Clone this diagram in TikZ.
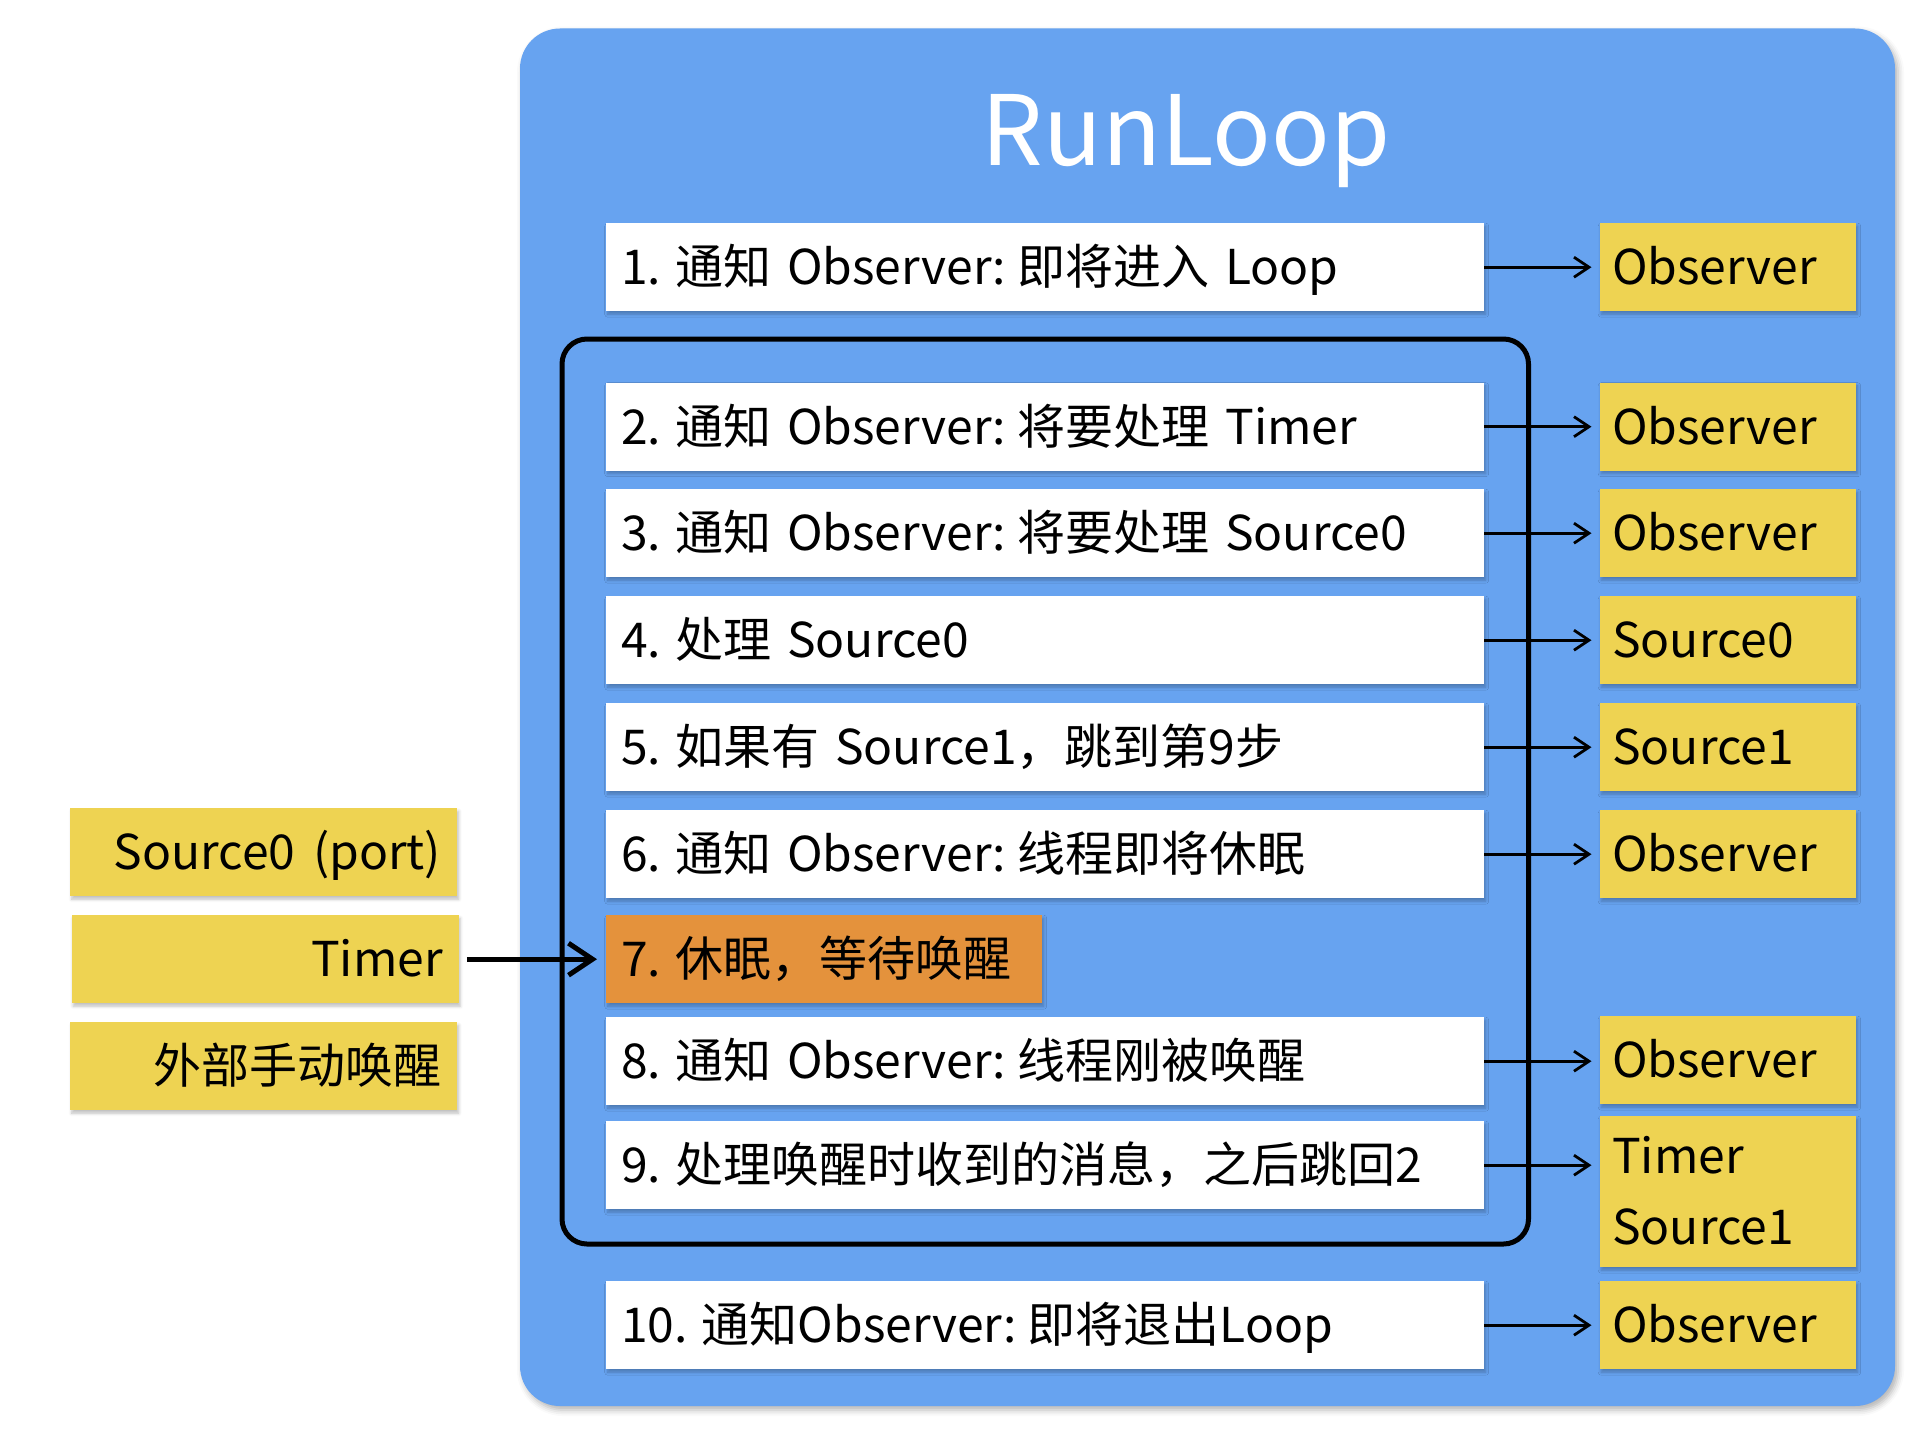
\documentclass[tikz,border=0pt]{standalone}
\usepackage{fontspec}
\setmainfont{Noto Sans CJK SC}
\usetikzlibrary{arrows.meta,shadows.blur}
\definecolor{rlblue}{RGB}{103,163,240}
\definecolor{rlyellow}{RGB}{238,211,82}
\definecolor{rlorange}{RGB}{228,146,60}
\newcommand{\gpa}{\hspace{14pt}}% after step number
\newcommand{\gpb}{\hspace{16pt}}% between CJK and Latin
\newcommand{\gpc}{\hspace{11pt}}% after colon
\begin{document}
\begin{tikzpicture}[x=1pt,y=-1pt,
  txt/.style={font=\fontsize{48}{71}\selectfont, text height=35pt, text depth=0pt,
    inner ysep=0pt, anchor=north west, minimum height=88pt},
  shad/.style={blur shadow={shadow xshift=1.5pt, shadow yshift=-3pt, shadow blur radius=3pt, shadow opacity=25}},
  stepbox/.style={txt, shad, fill=white, inner xsep=15pt, text width=848pt, align=left},
  sleepbox/.style={txt, shad, fill=rlorange, inner xsep=15pt, text width=406pt, align=left},
  obsbox/.style={txt, shad, fill=rlyellow, inner xsep=12.5pt, text width=231.5pt, align=left},
  srcbox/.style={txt, shad, fill=rlyellow, inner xsep=16pt, text width=355pt, align=right},
  thin/.style={line width=2.8pt, -{Straight Barb[length=15pt,width=20pt,line width=2.8pt]}},
  thick/.style={line width=5pt, -{Straight Barb[length=24pt,width=32pt,line width=5pt]}}
]
\useasboundingbox (0,0) rectangle (1918,1442);
% main RunLoop panel
\fill[rlblue, rounded corners=40pt,
  blur shadow={shadow xshift=3pt, shadow yshift=-4pt, shadow blur radius=6pt, shadow opacity=30}]
  (520,28.5) rectangle (1895,1406);
\node[text=white, font=\fontsize{97}{110}\selectfont, anchor=base] (title) at (1186,165.5) {RunLoop};
% loop frame
\draw[line width=5pt, rounded corners=25pt] (562,339) rectangle (1528.5,1244);
% steps
\node[stepbox] (b1) at (606,223) {1.\gpa 通知\gpb Observer:\gpc 即将进入\gpb Loop};
\node[stepbox] (b2) at (606,382.5) {2.\gpa 通知\gpb Observer:\gpc 将要处理\gpb Timer};
\node[stepbox] (b3) at (606,489) {3.\gpa 通知\gpb Observer:\gpc 将要处理\gpb Source0};
\node[stepbox] (b4) at (606,596) {4.\gpa 处理\gpb Source0};
\node[stepbox] (b5) at (606,703) {5.\gpa 如果有\gpb Source1，跳到第9步};
\node[stepbox] (b6) at (606,810) {6.\gpa 通知\gpb Observer:\gpc 线程即将休眠};
\node[sleepbox] (b7) at (606,915) {7.\gpa 休眠，等待唤醒};
\node[stepbox] (b8) at (606,1017) {8.\gpa 通知\gpb Observer:\gpc 线程刚被唤醒};
\node[stepbox] (b9) at (606,1121) {9.\gpa 处理唤醒时收到的消息，之后跳回2};
\node[stepbox] (b10) at (606,1281) {10.\gpa 通知Observer:\gpc 即将退出Loop};
% right targets
\node[obsbox] (o1) at (1599.5,223) {Observer};
\node[obsbox] (o2) at (1599.5,382.5) {Observer};
\node[obsbox] (o3) at (1599.5,489) {Observer};
\node[obsbox] (o4) at (1599.5,596) {Source0};
\node[obsbox] (o5) at (1599.5,703) {Source1};
\node[obsbox] (o6) at (1599.5,810) {Observer};
\node[obsbox] (o8) at (1599.5,1016) {Observer};
\node[obsbox, minimum height=151pt, text depth=71pt] (o9) at (1599.5,1116) {Timer\\Source1};
\node[obsbox] (o10) at (1599.5,1281) {Observer};
% left sources
\node[srcbox] (s1) at (70,808) {Source0\hspace{18pt}(port)};
\node[srcbox] (s2) at (71.5,915) {Timer};
\node[srcbox] (s3) at (70,1022) {外部手动唤醒};
% connectors
\foreach \i in {1,2,3,4,5,6,8,10}
  \draw[thin, shorten >=8pt] (b\i.east) -- (o\i.west |- b\i.east);
\draw[thin, shorten >=8pt] (b9.east) -- (o9.west |- b9.east);
\draw[thick, shorten <=8pt, shorten >=9pt] (s2.east) -- (b7.west);
\end{tikzpicture}
\end{document}
